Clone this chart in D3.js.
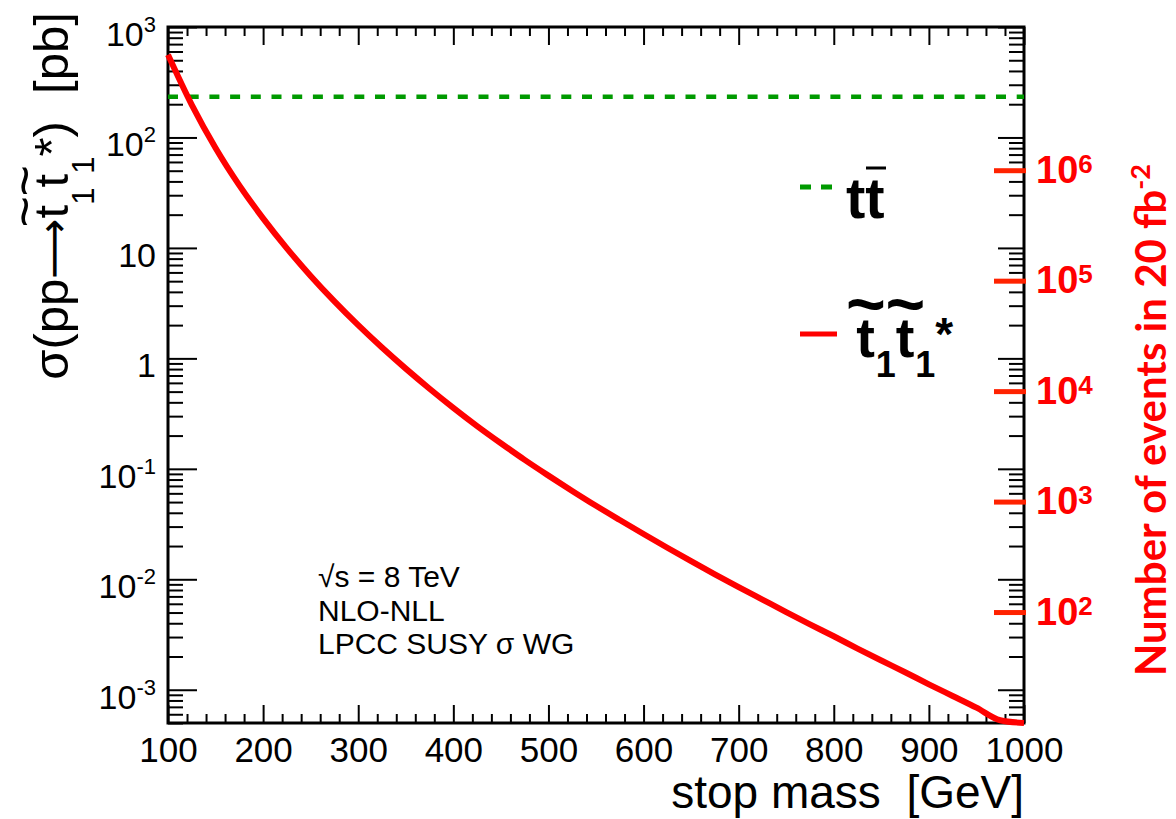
<!DOCTYPE html>
<html><head><meta charset="utf-8">
<script src="https://cdn.jsdelivr.net/npm/d3@7"></script>
<style>
body{margin:0;background:#fff}
svg{display:block}
text{font-family:"Liberation Sans",Arial,Helvetica,sans-serif}
</style>
</head><body>
<svg id="c" width="1176" height="819"></svg>
<script>
// ---- data ----
const stopMass = [100,125,150,175,200,225,250,275,300,325,350,375,400,425,450,475,500,525,550,575,600,625,650,675,700,725,750,775,800,825,850,875,900,925,950,975,1000];
const stopXsec = [559.757,197.122,80.268,36.7994,18.5245,9.90804,5.57596,3.2781,1.99608,1.25277,0.807323,0.531443,0.35683,0.244,0.1705,0.1205,0.0868,0.0631,0.0463,0.0344,0.0257,0.0193,0.0146,0.0111,0.00850,0.00655,0.00505,0.00391,0.00305,0.00236,0.00184,0.00144,0.00112,0.000878,0.000688,0.000530,0.000418];
const ttbarXsec = 234;
const lumiInvPb = 20000;
const xTickValues = [100,200,300,400,500,600,700,800,900,1000];
const yTickValues = [1000,100,10,1,0.1,0.01,0.001];
const yTickBase = ["10","10","10","1","10","10","10"];
const yTickExp = ["3","2","","","-1","-2","-3"];
const evTickValues = [1e2,1e3,1e4,1e5,1e6];
const evTickBase = ["10","10","10","10","10"];
const evTickExp = ["2","3","4","5","6"];
const yMin = 5e-4, yMax = 1e3;
const annotLines = ["\u221As = 8 TeV","NLO-NLL","LPCC SUSY \u03C3 WG"];

// ---- layout ----
const L=168,R=1024,T=27,B=723;
const svg = d3.select("#c");
const x = d3.scaleLinear().domain([100,1000]).range([L,R]);
const y = d3.scaleLog().domain([yMin,yMax]).range([B,T]).clamp(true);
const yEv = d3.scaleLog().domain([yMin*lumiInvPb,yMax*lumiInvPb]).range([B,T]);

const minorX = d3.range(100,1001,20).filter(v=>v%100!==0);
const minorY = [];
for(let e=-4;e<3;e++) for(let k=2;k<10;k++){const v=+(k*Math.pow(10,e)).toPrecision(6); if(v>=yMin&&v<=yMax) minorY.push(v);}

function ax(gen,tr,sw){
  const g=svg.append("g").attr("transform",tr).call(gen);
  g.select(".domain").remove();
  g.selectAll("line").attr("stroke","#000").attr("stroke-width",sw||2);
  g.attr("font-family",null).attr("font-size",null);
  return g;
}
// bottom
const gb = ax(d3.axisBottom(x).tickValues(xTickValues).tickSize(-18).tickPadding(14).tickFormat(d3.format("d")),`translate(0,${B})`);
gb.selectAll("text").attr("font-size",35).attr("fill","#000");
ax(d3.axisBottom(x).tickValues(minorX).tickSize(-9).tickFormat(""),`translate(0,${B})`);
// top
ax(d3.axisTop(x).tickValues(xTickValues).tickSize(-18).tickFormat(""),`translate(0,${T})`);
ax(d3.axisTop(x).tickValues(minorX).tickSize(-9).tickFormat(""),`translate(0,${T})`);
// left
ax(d3.axisLeft(y).tickValues(yTickValues).tickSize(-29).tickFormat(""),`translate(${L},0)`);
ax(d3.axisLeft(y).tickValues(minorY).tickSize(-15).tickFormat(""),`translate(${L},0)`);
// right (mirror)
ax(d3.axisRight(y).tickValues(yTickValues).tickSize(-26).tickFormat(""),`translate(${R},0)`);
ax(d3.axisRight(y).tickValues(minorY).tickSize(-15).tickFormat(""),`translate(${R},0)`);

// left labels
const yl = svg.append("g").selectAll("text").data(yTickValues).join("text")
  .attr("x",156).attr("y",d=>y(d)+19).attr("text-anchor","end").attr("font-size",34).attr("fill","#000");
yl.append("tspan").text((d,i)=>yTickBase[i]);
yl.append("tspan").attr("font-size",22).attr("dy",(d,i)=>yTickExp[i]?-14:0).text((d,i)=>yTickExp[i]);

// frame
svg.append("rect").attr("x",L).attr("y",T).attr("width",R-L).attr("height",B-T)
  .attr("fill","none").attr("stroke","#000").attr("stroke-width",3);

// ttbar dashed line
svg.append("path").datum([100,1000])
  .attr("d",d3.line().x(d=>x(d)).y(()=>y(ttbarXsec)))
  .attr("fill","none").attr("stroke","#009a00").attr("stroke-width",4.5).attr("stroke-dasharray","10,10.7");

// stop curve
const pts = stopMass.map((m,i)=>[m,stopXsec[i]]);
svg.append("path").datum(pts)
  .attr("d",d3.line().x(d=>x(d[0])).y(d=>y(d[1])).curve(d3.curveMonotoneX))
  .attr("fill","none").attr("stroke","#ff0000").attr("stroke-width",6);

// events axis (red)
svg.append("g").selectAll("line").data(evTickValues).join("line")
  .attr("x1",994).attr("x2",1026).attr("y1",d=>yEv(d)).attr("y2",d=>yEv(d))
  .attr("stroke","#ff2200").attr("stroke-width",5);
const el = svg.append("g").selectAll("text").data(evTickValues).join("text")
  .attr("x",1036).attr("y",d=>yEv(d)+12).attr("font-size",38).attr("font-weight","bold").attr("fill","#ff0000");
el.append("tspan").text((d,i)=>evTickBase[i]);
el.append("tspan").attr("font-size",26).attr("dy",-10).text((d,i)=>evTickExp[i]);

// right title
const rt = svg.append("text").attr("transform","translate(1166,420) rotate(-90)")
  .attr("text-anchor","middle").attr("fill","#ff0000").attr("font-weight","bold")
  .attr("font-size",42).style("font-family","Lato,'Open Sans',sans-serif");
rt.append("tspan").text("Number of events in 20 fb");
rt.append("tspan").attr("font-size",27).attr("dy",-16).text("-2");

// left title
const lt = svg.append("text").attr("transform","translate(68,196) rotate(-90)")
  .attr("text-anchor","middle").attr("font-size",49).attr("fill","#000");
lt.append("tspan").text("\u03C3(pp");
lt.append("tspan").style("font-family","'DejaVu Sans'").attr("font-size",42).text("\u27F6");
for(let k=0;k<2;k++){
  lt.append("tspan").attr("dy",k===0?0:-26).text("t");
  lt.append("tspan").attr("font-size",54).attr("dx",-22.6).attr("dy",-25).text("~");
  lt.append("tspan").attr("font-size",31).attr("dx",-8.8).attr("dy",51).text("1");
}
lt.append("tspan").attr("dy",-26).text("*)\u00A0\u00A0[pb]");

// x title
svg.append("text").attr("x",1024).attr("y",808).attr("text-anchor","end").attr("font-size",46)
  .attr("fill","#000").text("stop mass\u00A0\u00A0[GeV]");

// annotation
svg.append("g").selectAll("text").data(annotLines).join("text")
  .attr("x",318).attr("y",(d,i)=>587+i*33.5).attr("font-size",30).attr("fill","#000").text(d=>d);

// legend
svg.append("line").attr("x1",800).attr("x2",832).attr("y1",187).attr("y2",187)
  .attr("stroke","#009a00").attr("stroke-width",5).attr("stroke-dasharray","11,10");
svg.append("text").attr("x",846).attr("y",218).attr("font-size",58).attr("font-weight","bold").attr("fill","#000").text("tt");
svg.append("line").attr("x1",866).attr("x2",886).attr("y1",168).attr("y2",168)
  .attr("stroke","#000").attr("stroke-width",3);

svg.append("line").attr("x1",800).attr("x2",837).attr("y1",334).attr("y2",334)
  .attr("stroke","#ff0000").attr("stroke-width",5);
const lg2 = svg.append("text").attr("x",846).attr("y",357).attr("font-size",56).attr("font-weight","bold").attr("fill","#000");
for(let k=0;k<2;k++){
  lg2.append("tspan").attr("dy",k===0?0:-20).text("t");
  lg2.append("tspan").attr("font-size",68).attr("dx",-29).attr("dy",-30).text("~");
  lg2.append("tspan").attr("font-size",36).attr("dx",-10).attr("dy",50).text("1");
}
lg2.append("tspan").attr("font-size",46).attr("dy",-27).text("*");
</script>
</body></html>
